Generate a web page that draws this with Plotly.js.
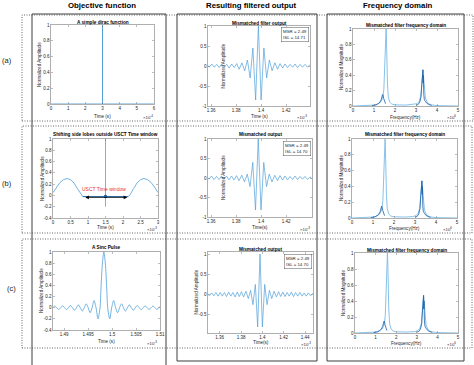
<!DOCTYPE html>
<html><head><meta charset="utf-8">
<script src="https://cdn.plot.ly/plotly-3.0.1.min.js"></script>
<style>html,body{margin:0;padding:0;background:#fff;}#c{width:474px;height:365px;}</style>
</head><body><div id="c"></div>
<script>
// ---------- data ----------
const diracT = [0, 3, 3, 3, 6];            // x10^-4 s
const diracY = [0, 0, 1, 0, 0];

const outT = [1.3484,1.3504,1.3524,1.3544,1.3564,1.3584,1.3604,1.3624,1.3644,1.3664,1.3684,1.3704,1.3724,1.3744,1.3764,1.3784,1.3804,
  1.3824,1.3846,1.3868,1.389,1.3912,1.3934,1.3956,1.3978,1.4,1.4022,1.4044,1.4066,1.4088,1.411,1.4132,
  1.4152,1.4172,1.4192,1.4212,1.4232,1.4252,1.4272,1.4292,1.4312,1.4332,1.4352,1.4372,1.4392,1.4412,1.4432,1.4452,1.4472];
const outA = [0.02,-0.02,0.03,-0.02,0.04,-0.03,0.05,-0.03,0.04,-0.04,0.05,-0.03,0.04,-0.05,0.05,-0.04,0.06,
  -0.08,0.08,-0.12,0.15,-0.3,0.45,-0.85,1.0,-0.85,0.45,-0.3,0.15,-0.12,0.08,-0.08,
  0.06,-0.05,0.05,-0.04,0.04,-0.03,0.05,-0.04,0.04,-0.03,0.04,-0.03,0.03,-0.03,0.03,-0.02,0.02];
const outB = [0.02,-0.02,0.03,-0.03,0.04,-0.03,0.05,-0.04,0.04,-0.04,0.05,-0.03,0.05,-0.05,0.05,-0.05,0.06,
  -0.07,0.07,-0.1,0.1,-0.22,0.4,-0.82,1.0,-0.82,0.4,-0.22,0.1,-0.1,0.07,-0.07,
  0.06,-0.05,0.05,-0.05,0.04,-0.04,0.05,-0.04,0.04,-0.03,0.04,-0.04,0.03,-0.03,0.03,-0.02,0.02];
const outC = [0.02,-0.03,0.04,-0.03,0.05,-0.04,0.05,-0.04,0.05,-0.05,0.06,-0.04,0.05,-0.06,0.06,-0.05,0.07,
  -0.06,0.08,-0.1,0.1,-0.25,0.25,-0.8,1.0,-0.8,0.25,-0.25,0.1,-0.1,0.08,-0.06,
  0.07,-0.05,0.06,-0.05,0.05,-0.04,0.06,-0.05,0.05,-0.04,0.05,-0.04,0.04,-0.04,0.04,-0.03,0.03];

const freqLightF = [0,0.5,0.8,1.0,1.1,1.2,1.3,1.38,1.43,1.47,1.5,1.53,1.56,1.575,1.59,1.61,1.64,1.68,1.75,1.85,2.0,2.5,2.9,3.05,3.15,3.22,3.27,3.31,3.33,3.36,3.4,3.45,3.55,3.7,4.0,4.5,5];
const freqLightM = [0,0.003,0.006,0.012,0.018,0.028,0.045,0.08,0.13,0.22,0.4,0.7,0.95,1.0,0.9,0.6,0.3,0.12,0.05,0.025,0.015,0.012,0.018,0.03,0.06,0.12,0.25,0.42,0.47,0.38,0.2,0.1,0.04,0.015,0.005,0.002,0];
const freqDarkF = [0.9,1.0,1.1,1.2,1.28,1.34,1.38,1.41,1.43,1.46,1.5,1.55,null,3.0,3.1,3.18,3.24,3.28,3.3,3.31,3.32,3.33,3.34,3.35,3.37,3.4,3.45,3.5,3.6,3.75];
const freqDarkM = [0.004,0.008,0.015,0.03,0.05,0.08,0.12,0.15,0.14,0.1,0.06,0.03,null,0.01,0.02,0.05,0.12,0.3,0.42,0.35,0.46,0.47,0.3,0.4,0.15,0.08,0.06,0.04,0.02,0.008];

const shiftT = [0,0.1,0.2,0.3,0.4,0.5,0.6,0.7,0.8,0.85,2.15,2.2,2.3,2.4,2.5,2.6,2.7,2.8,2.9,3.0];   // x10^-3 s
const shiftY = [0.05,0.15,0.23,0.28,0.3,0.28,0.22,0.12,0.01,-0.02,-0.02,0.01,0.12,0.22,0.28,0.3,0.28,0.23,0.15,0.05];
const spikeT = [1.5, 1.5];
const spikeY = [-0.2, 1];
const windowT = [0.85, 2.15];
const windowY = [-0.02, -0.02];
const arrowT = [0.88, 2.12];
const arrowY = [-0.035, -0.035];

const sincT = [1.48724,1.48765,1.48806,1.48847,1.48888,1.48929,1.4897,1.49011,1.49052,1.49093,1.49134,1.49175,1.49216,1.49257,1.49298,1.49339,1.4938,1.49421,1.49462,1.49503,1.49544,1.49585,1.49626,1.49667,1.49708,
  1.4975,1.4977,1.498,1.4983,1.4986,1.4989,1.4991,
  1.49952,1.49993,1.50034,1.50075,1.50116,1.50157,1.50198,1.50239,1.5028,1.50321,1.50362,1.50403,1.50444,1.50485,1.50526,1.50567,1.50608,1.50649,1.5069,1.50731,1.50772,1.50813,1.50854,1.50895,1.50936,1.50977,1.51018,1.51059,1.511];
const sincY = [-0.03,0,0.03,0,-0.03,0,0.035,0,-0.035,0,0.04,0,-0.045,0,0.05,0,-0.06,0,0.07,0,-0.09,0,0.13,0,-0.2,
  0,0.35,0.8,1,0.8,0.35,0,
  -0.2,0,0.13,0,-0.09,0,0.07,0,-0.06,0,0.05,0,-0.045,0,0.04,0,-0.035,0,0.035,0,-0.03,0,0.03,0,-0.03,0,0.028,0,-0.025];

// tick labels
const tkDiracX = [0,1,2,3,4,5,6];
const tkUnitY = [0,0.2,0.4,0.6,0.8,1];
const tkUnitYLab = ['0','0.2','0.4','0.6','0.8','1'];
const tkOutX = [1.36,1.38,1.4,1.42];
const tkOutXLab = ['1.36','1.38','1.4','1.42'];
const tkOutY = [-1,-0.5,0,0.5,1];
const tkOutYLab = ['-1','-0.5','0','0.5','1'];
const tkFreqX = [0,1,2,3,4,5];
const tkShiftX = [0,0.5,1,1.5,2,2.5,3];
const tkShiftXLab = ['0','0.5','1','1.5','2','2.5','3'];
const tkShiftY = [-0.4,-0.2,0,0.2,0.4,0.6,0.8,1];
const tkShiftYLab = ['-0.4','-0.2','0','0.2','0.4','0.6','0.8','1'];
const tkSincX = [1.49,1.495,1.5,1.505,1.51];
const tkSincXLab = ['1.49','1.495','1.5','1.505','1.51'];
const tkOutCX = [1.36,1.38,1.4,1.42,1.44];
const tkOutCXLab = ['1.36','1.38','1.4','1.42','1.44'];
const tkOutCY = [-0.5,0,0.5,1];
const tkOutCYLab = ['-0.5','0','0.5','1'];

// texts
const colTitles = ['Objective function','Resulting filtered output','Frequency domain'];
const rowLabels = ['(a)','(b)','(c)'];
const subTitles = ['A simple dirac function','Mismatched filter output','Mismatched filter frequency domain',
  'Shifting side lobes outside USCT Time window','Mismatched output','Mismatched filter frequency domain',
  'A Sinc Pulse','Mismatched output','Mismatched filter frequency domain'];
const xLabels = ['Time (s)','Time (s)','Frequency(Hz)','Time (s)','Time(s)','Frequency(Hz)','Time (s)','Time(s)','Frequency(Hz)'];
const yLabels = ['Normalized Amplitude','Normalized Amplitude','Normalized Magnitude','Normalized Amplitude','Normalized Amplitude','Normalized Magnitude','Normalized Amplitude','Normalized Amplitude','Normalized Magnitude'];
const expLabels = ['×10<sup>-4</sup>','×10<sup>-3</sup>','×10<sup>6</sup>','×10<sup>-3</sup>','×10<sup>-3</sup>','×10<sup>6</sup>','×10<sup>-3</sup>','×10<sup>-3</sup>','×10<sup>6</sup>'];
const msrText = ['MSR = 2.49<br>ISL = 14.71','MSR = 2.49<br>ISL = 14.70','MSR = 2.49<br>ISL = 14.70'];
const windowLabel = 'USCT Time window';

// ---------- layout ----------
const W = 474, H = 365;
const px = x => x / W, py = y => 1 - y / H;
const FONT = 'Liberation Sans, Arial, Helvetica, sans-serif';
const LIGHT = '#4f9fd8', DARK = '#1b5fa6', FLIGHT = '#79bbe8';

const panels = [
  {b:[51,154,25,104], xr:[0,6], yr:[0,1], xt:[tkDiracX,tkDiracX.map(String)], yt:[tkUnitY,tkUnitYLab], ty:22.5, xly:116, ylx:39.5, ex:[155,117.5]},
  {b:[208,310,26,106], xr:[1.3574,1.4392], yr:[-1,1], xt:[tkOutX,tkOutXLab], yt:[tkOutY,tkOutYLab], ty:23.5, xly:116.5, ylx:222.5, ex:[309,117.5]},
  {b:[353,458,29,106], xr:[0,5], yr:[0,1], xt:[tkFreqX,tkFreqX.map(String)], yt:[tkUnitY,tkUnitYLab], ty:25, xly:117, ylx:341.5, ex:[458,117.5]},
  {b:[53,158,139,218], xr:[0,3], yr:[-0.4,1], xt:[tkShiftX,tkShiftXLab], yt:[tkShiftY,tkShiftYLab], ty:135, xly:227.5, ylx:42.5, ex:[159,228.5]},
  {b:[208,312,139,217], xr:[1.3576,1.4408], yr:[-1,1], xt:[tkOutX,tkOutXLab], yt:[tkOutY,tkOutYLab], ty:135, xly:227.5, ylx:223, ex:[312,228.5]},
  {b:[352,457,139,218], xr:[0,5], yr:[0,1], xt:[tkFreqX,tkFreqX.map(String)], yt:[tkUnitY,tkUnitYLab], ty:135, xly:228, ylx:341.5, ex:[454,228.5]},
  {b:[53,160,252,330], xr:[1.4877,1.51], yr:[-0.4,1], xt:[tkSincX,tkSincXLab], yt:[tkShiftY,tkShiftYLab], ty:247.5, xly:341, ylx:41, ex:[159,342.5]},
  {b:[208,313,252,333], xr:[1.349,1.4475], yr:[-0.95,1.05], xt:[tkOutCX,tkOutCXLab], yt:[tkOutCY,tkOutCYLab], ty:249, xly:342, ylx:196, ex:[313,343.5]},
  {b:[355,458,253,333], xr:[0,5], yr:[0,1], xt:[tkFreqX,tkFreqX.map(String)], yt:[tkUnitY,tkUnitYLab], ty:250, xly:343, ylx:343, ex:[458,343.5]}
];

const ax = i => (i === 1 ? '' : String(i));
function tr(x, y, i, color, width, extra) {
  return Object.assign({x: x, y: y, xaxis: 'x' + ax(i), yaxis: 'y' + ax(i), mode: 'lines',
    line: {color: color, width: width}, hoverinfo: 'skip', connectgaps: false}, extra || {});
}

const data = [
  tr(diracT, diracY, 1, LIGHT, 0.9),
  tr(outT, outA, 2, LIGHT, 0.7),
  tr(freqLightF, freqLightM, 3, FLIGHT, 0.9), tr(freqDarkF, freqDarkM, 3, DARK, 0.8),
  tr(shiftT, shiftY, 4, LIGHT, 0.8), tr(spikeT, spikeY, 4, LIGHT, 0.8), tr(windowT, windowY, 4, DARK, 0.8),
  tr([spikeT[0]], [windowY[0]], 4, DARK, 1, {mode: 'markers', marker: {size: 3.5, color: DARK}}),
  tr(outT, outB, 5, LIGHT, 0.7),
  tr(freqLightF, freqLightM, 6, FLIGHT, 0.9), tr(freqDarkF, freqDarkM, 6, DARK, 0.8),
  tr(sincT, sincY, 7, LIGHT, 0.8, {line: {color: LIGHT, width: 0.8, shape: 'spline', smoothing: 0.8}}),
  tr(outT, outC, 8, LIGHT, 0.7),
  tr(freqLightF, freqLightM, 9, FLIGHT, 0.9), tr(freqDarkF, freqDarkM, 9, DARK, 0.8)
];

const layout = {
  width: W, height: H, margin: {l: 0, r: 0, t: 0, b: 0}, showlegend: false,
  paper_bgcolor: '#fff', plot_bgcolor: '#fff', font: {family: FONT, size: 4.5, color: '#262626'},
  annotations: [], shapes: []
};

const axisStyle = {showline: true, linecolor: '#7a7a7a', linewidth: 0.6, mirror: 'allticks', ticks: 'inside',
  ticklen: 2, tickwidth: 0.5, tickcolor: '#7a7a7a', showgrid: false, zeroline: false,
  tickfont: {family: FONT, size: 4.5, color: '#262626'}, fixedrange: true};

panels.forEach((p, k) => {
  const i = k + 1, [l, r, t, b] = p.b;
  layout['xaxis' + ax(i)] = Object.assign({}, axisStyle, {domain: [px(l), px(r)], range: p.xr, anchor: 'y' + ax(i),
    tickmode: 'array', tickvals: p.xt[0], ticktext: p.xt[1]});
  layout['yaxis' + ax(i)] = Object.assign({}, axisStyle, {domain: [py(b), py(t)], range: p.yr, anchor: 'x' + ax(i),
    tickmode: 'array', tickvals: p.yt[0], ticktext: p.yt[1]});
  const A = layout.annotations;
  A.push({xref: 'paper', yref: 'paper', x: px((l + r) / 2), y: py(p.ty), text: '<b>' + subTitles[k] + '</b>', showarrow: false,
    font: {size: 4.7, color: '#000'}, xanchor: 'center', yanchor: 'middle'});
  A.push({xref: 'paper', yref: 'paper', x: px((l + r) / 2), y: py(p.xly), text: xLabels[k], showarrow: false,
    font: {size: 4.6, color: '#262626'}, xanchor: 'center', yanchor: 'middle'});
  A.push({xref: 'paper', yref: 'paper', x: px(p.ylx), y: py((t + b) / 2), text: yLabels[k], showarrow: false, textangle: -90,
    font: {size: 4.6, color: '#262626'}, xanchor: 'center', yanchor: 'middle'});
  A.push({xref: 'paper', yref: 'paper', x: px(p.ex[0]), y: py(p.ex[1]), text: expLabels[k], showarrow: false,
    font: {size: 4.3, color: '#262626'}, xanchor: 'right', yanchor: 'middle'});
});

[[1, 309, 27.5], [4, 311, 141], [7, 312, 253.5]].forEach(([k, x, y], j) => {
  layout.annotations.push({xref: 'paper', yref: 'paper', x: px(x), y: py(y), text: msrText[j], showarrow: false,
    align: 'left', xanchor: 'right', yanchor: 'top', bgcolor: '#fff', bordercolor: '#555', borderwidth: 0.5, borderpad: 1.5,
    font: {size: 4.4, color: '#262626'}});
});

layout.annotations.push({xref: 'x4', yref: 'y4', x: 1.46, y: 0.11, text: windowLabel, showarrow: false,
  font: {size: 5, color: '#e8342c'}, xanchor: 'center', yanchor: 'middle'});
layout.annotations.push({xref: 'x4', yref: 'y4', x: arrowT[1], y: arrowY[1], axref: 'x4', ayref: 'y4', ax: arrowT[0], ay: arrowY[0],
  text: '', showarrow: true, arrowhead: 2, arrowside: 'end+start', arrowsize: 0.9, arrowwidth: 0.8, arrowcolor: '#000'});

[[102, 5], [251, 5], [398, 5]].forEach(([x, y], j) => layout.annotations.push({xref: 'paper', yref: 'paper', x: px(x), y: py(y),
  text: '<b>' + colTitles[j] + '</b>', showarrow: false, font: {size: 7.8, color: '#000'}, xanchor: 'center', yanchor: 'middle'}));
[[7, 61], [7, 183], [11, 288]].forEach(([x, y], j) => layout.annotations.push({xref: 'paper', yref: 'paper', x: px(x), y: py(y),
  text: rowLabels[j], showarrow: false, font: {size: 7.5, color: '#222'}, xanchor: 'center', yanchor: 'middle'}));

const rect = (x0, y0, x1, y1, dash, color, w) => ({type: 'rect', xref: 'paper', yref: 'paper', x0: px(x0), x1: px(x1), y0: py(y1), y1: py(y0),
  line: {color: color, width: w, dash: dash}, fillcolor: 'rgba(0,0,0,0)'});
layout.shapes.push(rect(32, 14, 166, 370, 'solid', '#3c3c3c', 1));
layout.shapes.push(rect(177, 14, 317, 361, 'solid', '#3c3c3c', 1));
layout.shapes.push(rect(327, 14, 464, 361, 'solid', '#3c3c3c', 1));
layout.shapes.push(rect(22, 15, 473, 121, '1px,1.5px', '#555', 0.9));
layout.shapes.push(rect(22, 126, 472, 233, '1px,1.5px', '#555', 0.9));
layout.shapes.push(rect(22, 239, 472, 348, '1px,1.5px', '#555', 0.9));

Plotly.newPlot('c', data, layout, {staticPlot: true, displayModeBar: false});
</script></body></html>
